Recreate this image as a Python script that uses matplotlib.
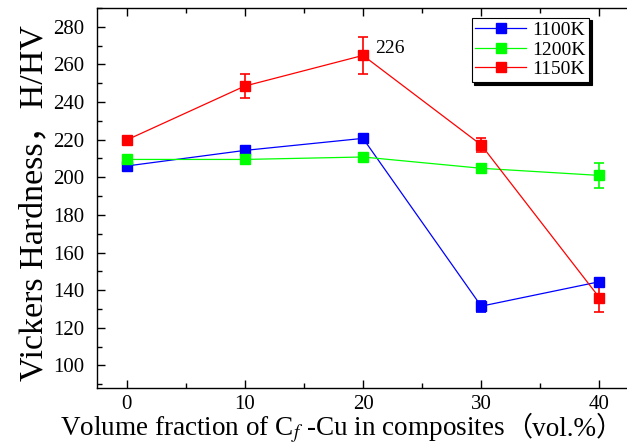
import matplotlib
matplotlib.use("Agg")
import matplotlib.pyplot as plt
from matplotlib.lines import Line2D
from matplotlib.ticker import MultipleLocator

plt.rcParams['font.family'] = ['Liberation Serif', 'Noto Sans CJK SC']
plt.rcParams['mathtext.fontset'] = 'stix'

# 数据
vol = [0, 10, 20, 30, 40]
hv_1100 = [206, 214.3, 220.7, 131.5, 144.5]
err_1100 = [0, 0, 0, 3, 0]
hv_1200 = [209.5, 209.5, 210.8, 204.8, 201]
err_1200 = [0, 2.5, 0, 0, 6.6]
hv_1150 = [219.8, 248.5, 264.8, 217.2, 136]
err_1150 = [0, 6.6, 9.8, 3.7, 7.7]
peak_label = '226'

fig = plt.figure(figsize=(6.27, 4.47), dpi=100)
ax = fig.add_axes([97 / 627, 59 / 447, 532 / 627, 380 / 447])

series = [
    (hv_1100, err_1100, '#0000ff', '1100K'),
    (hv_1200, err_1200, '#00ff00', '1200K'),
    (hv_1150, err_1150, '#ff0000', '1150K'),
]
handles = []
for y, e, c, lab in series:
    ax.errorbar(vol, y, yerr=e, color=c, ecolor=c, lw=0.9, elinewidth=1.2,
                capsize=3.5, capthick=1.2, marker='s', ms=6.5, mec=c, mfc=c)
    handles.append(Line2D([], [], color=c, lw=0.9, marker='s', ms=6.5,
                          mec=c, mfc=c, label=lab))

ax.text(21.0, 268.4, peak_label, fontsize=14, ha='left', va='center')

ax.set_xlim(-2.5, 42.5)
ax.set_ylim(88, 290)
ax.xaxis.set_major_locator(MultipleLocator(10))
ax.xaxis.set_minor_locator(MultipleLocator(5))
ax.yaxis.set_minor_locator(MultipleLocator(10))
ax.set_yticks(range(100, 281, 20))
ax.tick_params(which='both', direction='in', top=True, width=1.0, labelsize=15)
ax.tick_params(which='major', length=6)
ax.tick_params(which='minor', length=3.5)
ax.tick_params(axis='y', pad=9)
ax.tick_params(axis='x', pad=5)
for s in ax.spines.values():
    s.set_linewidth(1.0)

# x 轴标题: 全角括号单独画, mathtext 里没有 CJK 回退
t1 = fig.text(60 / 627, 12 / 447, r'Volume fraction of C$_{f}$ -Cu in composites',
              fontsize=19.5, ha='left', va='baseline')
ax.annotate('（vol.%）', xy=(1, 12 / 447), xycoords=(t1, 'figure fraction'),
            fontsize=19.5, ha='left', va='baseline', annotation_clip=False)

ax.set_ylabel('Vickers Hardness，H/HV', fontsize=24.5)
ax.yaxis.set_label_coords(-0.09, 0.487)

leg = ax.legend(handles=handles, loc='upper right', bbox_to_anchor=(0.925, 0.975),
                fontsize=14, frameon=True, fancybox=False,
                shadow={'color': 'black', 'alpha': 1},
                handlelength=2.6, borderpad=0.2, labelspacing=0.1,
                handletextpad=0.3, borderaxespad=0)
leg.get_frame().set_edgecolor('black')
leg.get_frame().set_linewidth(0.8)

fig.savefig('out.png', dpi=100)
